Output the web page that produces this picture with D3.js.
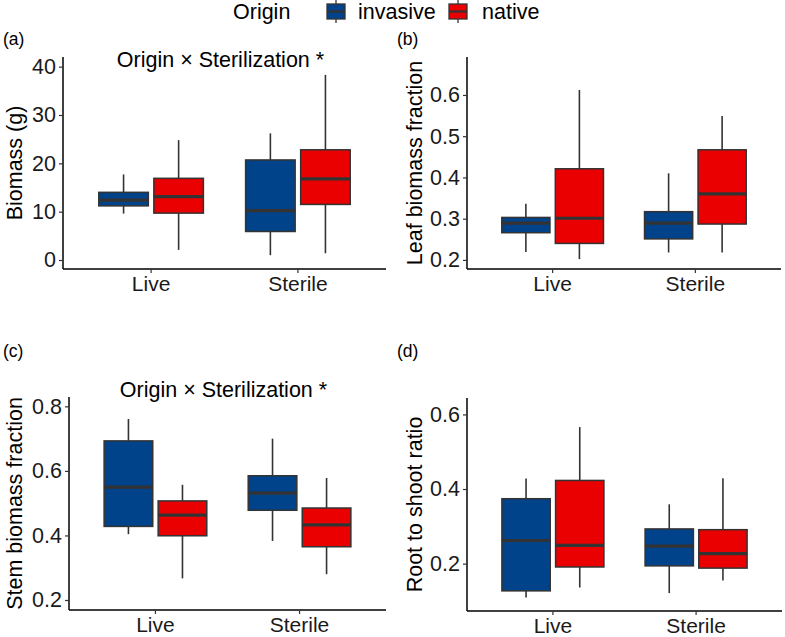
<!DOCTYPE html>
<html>
<head>
<meta charset="utf-8">
<script src="https://cdn.jsdelivr.net/npm/d3@7"></script>
<style>
  html, body { margin: 0; padding: 0; background: #fff; }
  svg { display: block; font-family: "Liberation Sans", Arial, Helvetica, sans-serif; }
</style>
</head>
<body>
<svg id="chart" width="785" height="637"></svg>
<script>
// ---- data (five-number summaries: [min, q1, median, q3, max]) ----
const categories = ["Live", "Sterile"];
const origins = ["invasive", "native"];
const originColors = ["#00438A", "#EA0000"];

const biomassInvasive = [[9.6, 11.2, 12.4, 14.0, 17.7], [1.0, 5.9, 10.2, 20.7, 26.2]];
const biomassNative   = [[2.1, 9.7, 13.1, 16.9, 24.8], [1.4, 11.5, 16.8, 22.8, 38.3]];
const biomassTicks = [0, 10, 20, 30, 40];

const leafInvasive = [[0.219, 0.266, 0.289, 0.303, 0.336], [0.218, 0.251, 0.289, 0.317, 0.410]];
const leafNative   = [[0.202, 0.240, 0.301, 0.421, 0.612], [0.218, 0.287, 0.360, 0.467, 0.549]];
const leafTicks = [0.2, 0.3, 0.4, 0.5, 0.6];

const stemInvasive = [[0.404, 0.428, 0.550, 0.693, 0.761], [0.383, 0.478, 0.531, 0.585, 0.700]];
const stemNative   = [[0.267, 0.399, 0.463, 0.507, 0.557], [0.280, 0.365, 0.433, 0.485, 0.578]];
const stemTicks = [0.2, 0.4, 0.6, 0.8];

const rootInvasive = [[0.109, 0.127, 0.262, 0.374, 0.428], [0.121, 0.194, 0.247, 0.293, 0.359]];
const rootNative   = [[0.136, 0.191, 0.249, 0.423, 0.566], [0.155, 0.188, 0.227, 0.291, 0.429]];
const rootTicks = [0.2, 0.4, 0.6];

const panels = [
  { tag: "(a)", ylab: "Biomass (g)", title: "Origin \u00d7 Sterilization *", inv: biomassInvasive, nat: biomassNative,
    ticks: biomassTicks, fmt: d3.format("d"), domain: [-1.86, 42.0],
    x0: 63, x1: 386, y0: 57, y1: 269, tagX: 3, tagY: 45, ylabX: 15, titleY: 67 },
  { tag: "(b)", ylab: "Leaf biomass fraction", title: null, inv: leafInvasive, nat: leafNative,
    ticks: leafTicks, fmt: d3.format(".1f"), domain: [0.178, 0.692],
    x0: 467, x1: 781, y0: 57, y1: 269, tagX: 397, tagY: 45, ylabX: 415, titleY: null },
  { tag: "(c)", ylab: "Stem biomass fraction", title: "Origin \u00d7 Sterilization *", inv: stemInvasive, nat: stemNative,
    ticks: stemTicks, fmt: d3.format(".1f"), domain: [0.169, 0.829],
    x0: 69, x1: 386, y0: 397, y1: 610, tagX: 3, tagY: 357, ylabX: 15, titleY: 397 },
  { tag: "(d)", ylab: "Root to shoot ratio", title: null, inv: rootInvasive, nat: rootNative,
    ticks: rootTicks, fmt: d3.format(".1f"), domain: [0.073, 0.644],
    x0: 467, x1: 782, y0: 398, y1: 611, tagX: 397, tagY: 357, ylabX: 415, titleY: null }
];

const svg = d3.select("#chart");
const ink = "#333333";

panels.forEach(p => {
  const g = svg.append("g");
  const x = d3.scaleBand().domain(categories).range([p.x0, p.x1]).paddingInner(0).paddingOuter(0.1);
  const bw = x.bandwidth();
  const xs = d3.scaleBand().domain(origins).range([0.125 * bw, 0.875 * bw]);
  const y = d3.scaleLinear().domain(p.domain).range([p.y1, p.y0]);
  const boxW = xs.bandwidth() * 0.9;

  // boxes
  const groups = [];
  categories.forEach((c, ci) => {
    origins.forEach((o, oi) => {
      const s = (oi === 0 ? p.inv : p.nat)[ci];
      groups.push({ c, o, oi, s });
    });
  });
  const bx = g.selectAll("g.box").data(groups).join("g").attr("class", "box")
    .attr("transform", d => `translate(${x(d.c) + xs(d.o) + xs.bandwidth() / 2},0)`);
  bx.append("line").attr("x1", 0).attr("x2", 0)
    .attr("y1", d => y(d.s[4])).attr("y2", d => y(d.s[3]))
    .attr("stroke", ink).attr("stroke-width", 1.6);
  bx.append("line").attr("x1", 0).attr("x2", 0)
    .attr("y1", d => y(d.s[1])).attr("y2", d => y(d.s[0]))
    .attr("stroke", ink).attr("stroke-width", 1.6);
  bx.append("rect")
    .attr("x", -boxW / 2).attr("width", boxW)
    .attr("y", d => y(d.s[3])).attr("height", d => y(d.s[1]) - y(d.s[3]))
    .attr("fill", d => originColors[d.oi]).attr("stroke", ink).attr("stroke-width", 1.5);
  bx.append("line").attr("x1", -boxW / 2).attr("x2", boxW / 2)
    .attr("y1", d => y(d.s[2])).attr("y2", d => y(d.s[2]))
    .attr("stroke", ink).attr("stroke-width", 3.2);

  // axes
  const ya = g.append("g").attr("transform", `translate(${p.x0},0)`)
    .call(d3.axisLeft(y).tickValues(p.ticks).tickFormat(p.fmt).tickSize(4).tickPadding(3));
  ya.select(".domain").attr("d", `M0,${p.y0}V${p.y1}`).attr("stroke", "#000").attr("stroke-width", 1.5);
  ya.selectAll(".tick line").attr("stroke", ink).attr("stroke-width", 1.2);
  ya.selectAll(".tick text").attr("font-size", 21.5).attr("fill", "#1a1a1a")
    .attr("font-family", "Liberation Sans, Arial, sans-serif");

  const xa = g.append("g").attr("transform", `translate(0,${p.y1})`)
    .call(d3.axisBottom(x).tickSize(4).tickPadding(3));
  xa.select(".domain").attr("d", `M${p.x0},0H${p.x1}`).attr("stroke", "#000").attr("stroke-width", 1.5);
  xa.selectAll(".tick line").attr("stroke", ink).attr("stroke-width", 1.2);
  xa.selectAll(".tick text").attr("font-size", 21).attr("fill", "#1a1a1a")
    .attr("font-family", "Liberation Sans, Arial, sans-serif");

  // y label
  g.append("text")
    .attr("transform", `translate(${p.ylabX + 7},${(p.y0 + p.y1) / 2}) rotate(-90)`)
    .attr("text-anchor", "middle").attr("font-size", 21.5).attr("fill", "#000")
    .text(p.ylab);

  // tag
  g.append("text").attr("x", p.tagX).attr("y", p.tagY)
    .attr("font-size", 17.5).attr("fill", "#000").text(p.tag);

  // title
  if (p.title) {
    g.append("text").attr("x", (p.x0 + p.x1) / 2 - 4).attr("y", p.titleY)
      .attr("text-anchor", "middle").attr("font-size", 21.5).attr("fill", "#000")
      .text(p.title);
  }
});

// legend
const lg = svg.append("g");
lg.append("text").attr("x", 233).attr("y", 19).attr("font-size", 21.5).attr("fill", "#000").text("Origin");
const keyX = [327, 449];
const labX = [358, 482];
origins.forEach((o, i) => {
  const k = lg.append("g").attr("transform", `translate(${keyX[i]},0)`);
  k.append("line").attr("x1", 9).attr("x2", 9).attr("y1", 0).attr("y2", 23).attr("stroke", ink).attr("stroke-width", 1.3);
  k.append("rect").attr("x", 0).attr("y", 4).attr("width", 18).attr("height", 15)
    .attr("fill", originColors[i]).attr("stroke", ink).attr("stroke-width", 1.3);
  k.append("line").attr("x1", 0).attr("x2", 18).attr("y1", 11.5).attr("y2", 11.5).attr("stroke", ink).attr("stroke-width", 2.2);
  lg.append("text").attr("x", labX[i]).attr("y", 19).attr("font-size", 21.5).attr("fill", "#000").text(o);
});
</script>
</body>
</html>
